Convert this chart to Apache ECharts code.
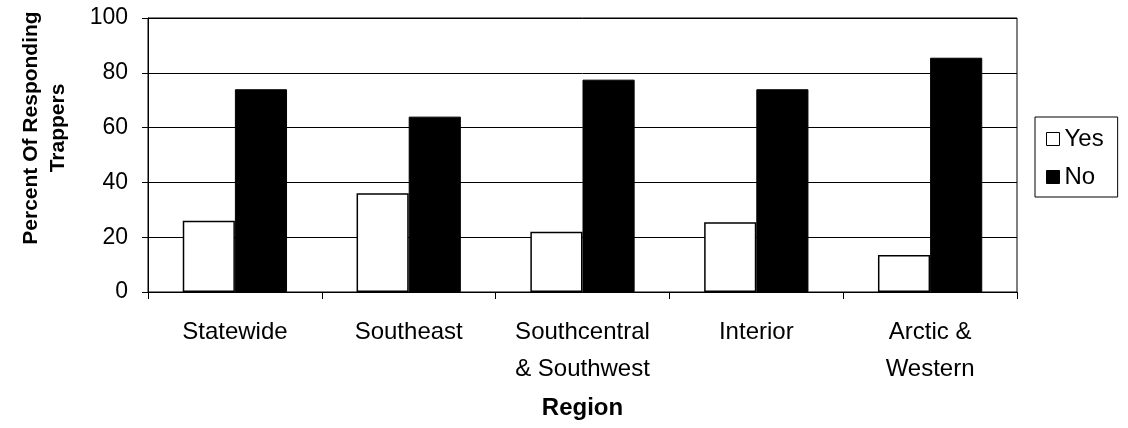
<!DOCTYPE html>
<html>
<head>
<meta charset="utf-8">
<script src="https://cdn.jsdelivr.net/npm/echarts@6/dist/echarts.min.js"></script>
<style>
html,body{margin:0;padding:0;background:#fff;}
#chart{width:1128px;height:428px;}
</style>
</head>
<body>
<div id="chart"></div>
<script>
const categories = ['Statewide', 'Southeast', 'Southcentral\n& Southwest', 'Interior', 'Arctic &\nWestern'];
const yesValues = [26, 36, 22, 25.5, 13.5];
const noValues = [74, 64, 77.5, 74, 85.5];
const yTicks = [0, 20, 40, 60, 80, 100];

const FONT = '"Liberation Sans", Arial, sans-serif';
const chart = echarts.init(document.getElementById('chart'), null, {renderer: 'canvas'});
chart.setOption({
  animation: false,
  backgroundColor: '#fff',
  grid: {
    left: 148, right: 111, top: 18, bottom: 136,
    show: true, borderColor: '#000', borderWidth: 1, backgroundColor: 'transparent'
  },
  legend: {
    orient: 'vertical',
    left: 1035, top: 117,
    padding: [9, 14, 7, 11],
    itemGap: 12,
    itemWidth: 13, itemHeight: 13,
    itemTextGap: 4,
    borderColor: '#000', borderWidth: 1,
    textStyle: {fontFamily: FONT, fontSize: 24, color: '#000', lineHeight: 26},
    data: [
      {name: 'Yes', icon: 'rect', itemStyle: {color: '#fff', borderColor: '#000', borderWidth: 1}},
      {name: 'No', icon: 'rect', itemStyle: {color: '#000', borderColor: '#000', borderWidth: 1}}
    ]
  },
  xAxis: {
    type: 'category',
    data: categories,
    name: 'Region',
    nameLocation: 'middle',
    nameGap: 104,
    nameTextStyle: {fontFamily: FONT, fontSize: 24, fontWeight: 'bold', color: '#000'},
    axisLine: {show: true, lineStyle: {color: '#000', width: 1}},
    axisTick: {show: true, length: 7, interval: 0, lineStyle: {color: '#000'}},
    axisLabel: {
      interval: 0, margin: 22,
      fontFamily: FONT, fontSize: 24, color: '#000', lineHeight: 37, align: 'center'
    }
  },
  yAxis: {
    type: 'value',
    min: 0, max: 100, interval: 20,
    name: 'Percent Of Responding\nTrappers',
    nameLocation: 'middle',
    nameGap: 76,
    nameRotate: 90,
    nameTextStyle: {
      fontFamily: FONT, fontSize: 21, fontWeight: 'bold', color: '#000',
      lineHeight: 27, align: 'center', padding: [0, 0, 0, 54]
    },
    axisLine: {show: true, lineStyle: {color: '#000', width: 1}},
    axisTick: {show: true, length: 6, lineStyle: {color: '#000'}},
    splitLine: {show: true, lineStyle: {color: '#000', width: 1}},
    axisLabel: {
      margin: 20, fontFamily: FONT, fontSize: 23, color: '#000',
      formatter: function (v) { return yTicks.indexOf(v) >= 0 ? String(v) : ''; }
    }
  },
  series: [
    {
      name: 'Yes', type: 'bar', data: yesValues,
      barGap: '0%', barCategoryGap: '40%',
      itemStyle: {color: '#fff', borderColor: '#000', borderWidth: 1.5}
    },
    {
      name: 'No', type: 'bar', data: noValues,
      barGap: '0%', barCategoryGap: '40%',
      itemStyle: {color: '#000', borderColor: '#000', borderWidth: 1}
    }
  ]
});
</script>
</body>
</html>
